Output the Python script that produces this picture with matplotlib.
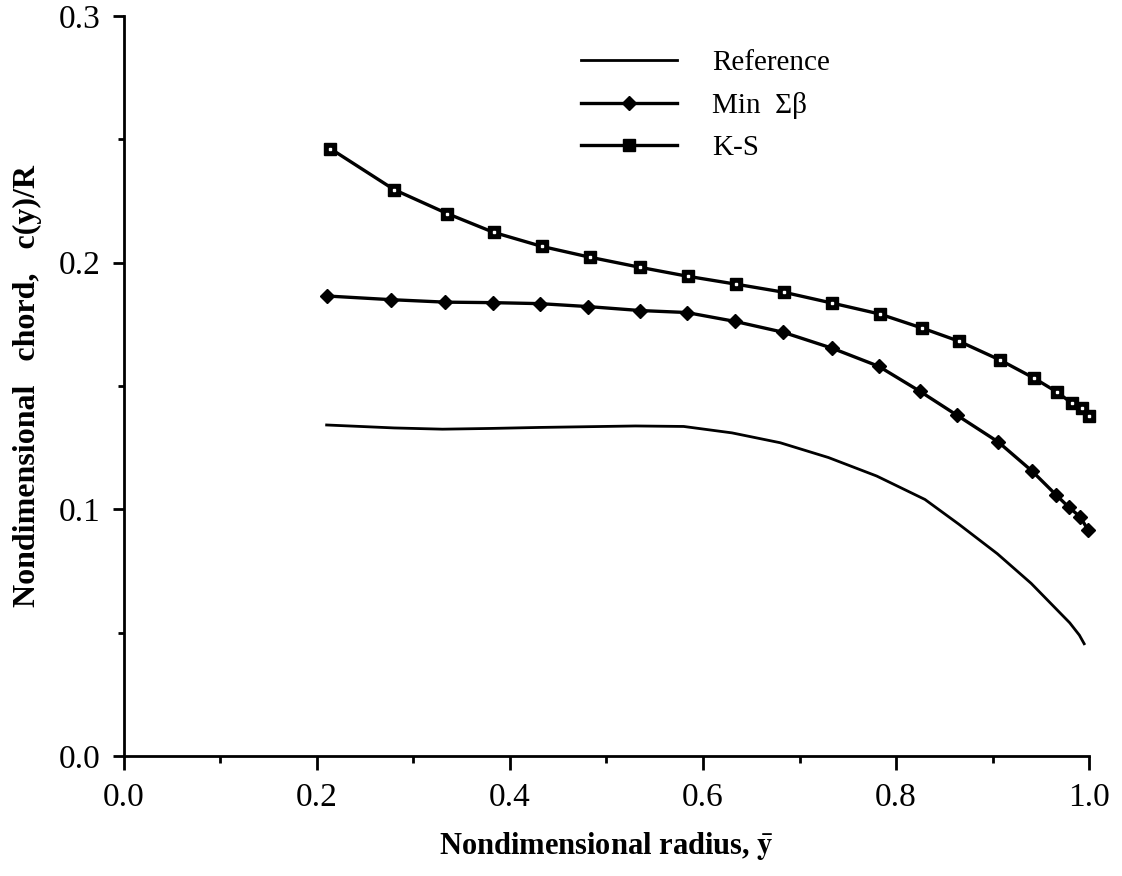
import matplotlib; matplotlib.use("agg")
import matplotlib.pyplot as plt
import numpy as np

plt.rcParams['font.family'] = ['Liberation Serif', 'DejaVu Serif']
plt.rcParams['mathtext.fontset'] = 'stix'

# radial stations, y-bar
x_ref = [0.21, 0.28, 0.33, 0.38, 0.43, 0.48, 0.53, 0.58, 0.63, 0.68,
         0.73, 0.78, 0.83, 0.865, 0.905, 0.94, 0.965, 0.98, 0.99, 0.995]
c_ref = [0.1342, 0.1330, 0.1325, 0.1328, 0.1332, 0.1335, 0.1338, 0.1336, 0.1310, 0.1270,
         0.1210, 0.1135, 0.1040, 0.0940, 0.0820, 0.0700, 0.0600, 0.0540, 0.0490, 0.0455]

x_min = [0.210, 0.277, 0.333, 0.382, 0.431, 0.481, 0.535, 0.583, 0.633, 0.683,
         0.734, 0.782, 0.825, 0.863, 0.906, 0.941, 0.966, 0.979, 0.991, 0.999]
c_min = [0.1865, 0.1850, 0.1840, 0.1838, 0.1834, 0.1822, 0.1806, 0.1798, 0.1762, 0.1718,
         0.1653, 0.1580, 0.1478, 0.1382, 0.1273, 0.1155, 0.1058, 0.1009, 0.0969, 0.0916]

x_ks = [0.214, 0.280, 0.335, 0.383, 0.433, 0.483, 0.535, 0.584, 0.634, 0.684,
        0.734, 0.783, 0.827, 0.865, 0.908, 0.943, 0.967, 0.982, 0.993, 1.000]
c_ks = [0.2462, 0.2296, 0.2199, 0.2123, 0.2066, 0.2022, 0.1981, 0.1945, 0.1913, 0.1880,
        0.1836, 0.1792, 0.1735, 0.1682, 0.1605, 0.1532, 0.1475, 0.1431, 0.1411, 0.1378]

fig = plt.figure(figsize=(11.22, 8.76), dpi=100)
ax = fig.add_axes([0.1105, 0.137, 0.8601, 0.8447])

ax.plot(x_ref, c_ref, color='black', lw=2.0, label='Reference', clip_on=False)
ax.plot(x_min, c_min, color='black', lw=2.4, marker='D', ms=7.5, label='Min  Σβ', clip_on=False)
ax.plot(x_ks, c_ks, color='black', lw=2.4, marker='s', ms=9, label='K-S', clip_on=False)
# little white dot in the centre of the square markers
ax.plot(x_ks, c_ks, ls='none', marker='s', ms=1.5, mfc='white', mec='white', clip_on=False)

ax.set_xlim(0.0, 1.0)
ax.set_ylim(0.0, 0.3)
ax.set_xticks(np.arange(0, 1.01, 0.2))
ax.set_xticks(np.arange(0, 1.01, 0.1), minor=True)
ax.set_yticks([0.0, 0.1, 0.2, 0.3])
ax.set_yticks(np.arange(0, 0.301, 0.05), minor=True)
ax.xaxis.set_major_formatter(plt.FormatStrFormatter('%.1f'))
ax.yaxis.set_major_formatter(plt.FormatStrFormatter('%.1f'))

for side in ['top', 'right']:
    ax.spines[side].set_visible(False)
for side in ['left', 'bottom']:
    ax.spines[side].set_linewidth(2.0)

ax.tick_params(axis='x', which='major', direction='out', length=10, width=2, pad=9, labelsize=24)
ax.tick_params(axis='x', which='minor', direction='out', length=5, width=2)
ax.tick_params(axis='y', which='major', direction='out', length=8, width=2, pad=9, labelsize=24)
ax.tick_params(axis='y', which='minor', direction='out', length=4, width=2)

ax.set_xlabel(r'Nondimensional radius, $\bar{\mathbf{y}}$', fontsize=22, fontweight='bold', labelpad=12)
ax.set_ylabel('Nondimensional   chord,   c(y)/R', fontsize=23, fontweight='bold', labelpad=12)

leg = ax.legend(loc='upper left', bbox_to_anchor=(0.4736, 0.955), frameon=False,
                fontsize=21, handlelength=3.3, handletextpad=1.2, labelspacing=0.55,
                borderpad=0, borderaxespad=0)

plt.savefig("out.png", dpi=100)
